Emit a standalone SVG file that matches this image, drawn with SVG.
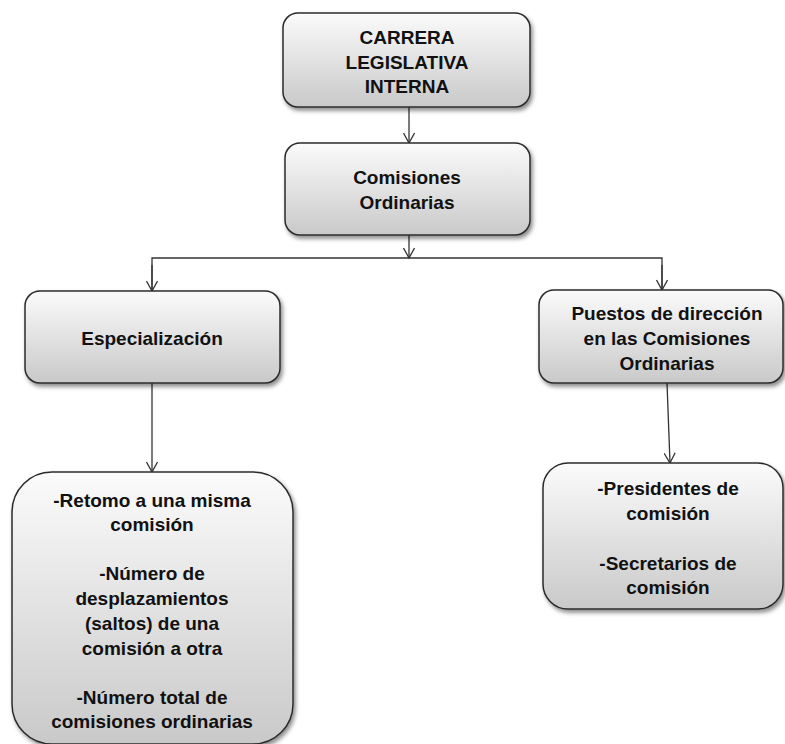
<svg xmlns="http://www.w3.org/2000/svg" width="785" height="744" viewBox="0 0 785 744">
<style>
.box{fill:url(#g);stroke:#2b2b2b;stroke-width:1.5;filter:url(#sh)}
.t{font-family:"Liberation Sans",Arial,sans-serif;font-weight:bold;font-size:19px;fill:#111;text-anchor:middle}
.c{fill:none;stroke:#333;stroke-width:1.3}
</style>
<defs>
<linearGradient id="g" x1="0" y1="0" x2="0" y2="1">
<stop offset="0" stop-color="#fbfbfb"/>
<stop offset="1" stop-color="#c9c9c9"/>
</linearGradient>
<filter id="sh" x="-10%" y="-10%" width="125%" height="130%">
<feDropShadow dx="2" dy="3" stdDeviation="2" flood-color="#000" flood-opacity="0.45"/>
</filter>
<marker id="a" viewBox="0 0 12 12" refX="11" refY="6" markerWidth="12" markerHeight="12" markerUnits="userSpaceOnUse" orient="auto">
<path d="M1,0.5 L11,6 L1,11.5" fill="none" stroke="#333" stroke-width="1.3"/>
</marker>
</defs>
<rect width="785" height="744" fill="#fff"/>
<g id="connectors">
<path class="c" d="M409,107 V143" marker-end="url(#a)"/>
<path class="c" d="M409,235 V258" marker-end="url(#a)"/>
<path class="c" d="M152,290 V258 H662 V290"/>
<path class="c" d="M152,265 V291" marker-end="url(#a)"/>
<path class="c" d="M662,265 V290" marker-end="url(#a)"/>
<path class="c" d="M152,383 V472" marker-end="url(#a)"/>
<path class="c" d="M667,383 L670,463" marker-end="url(#a)"/>
</g>
<g id="carrera">
<rect class="box" x="283" y="13" width="247" height="94" rx="15"/>
<text class="t" x="407" y="44">CARRERA</text>
<text class="t" x="407" y="69">LEGISLATIVA</text>
<text class="t" x="407" y="93">INTERNA</text>
</g>
<g id="comisiones">
<rect class="box" x="285" y="143" width="245" height="92" rx="15"/>
<text class="t" x="407" y="184">Comisiones</text>
<text class="t" x="407" y="209">Ordinarias</text>
</g>
<g id="especializacion">
<rect class="box" x="25" y="291" width="255" height="92" rx="15"/>
<text class="t" x="152" y="345">Especialización</text>
</g>
<g id="puestos">
<rect class="box" x="539" y="290" width="244" height="93" rx="15"/>
<text class="t" x="667" y="320">Puestos de dirección</text>
<text class="t" x="667" y="345">en las Comisiones</text>
<text class="t" x="667" y="370">Ordinarias</text>
</g>
<g id="indicadores">
<rect class="box" x="12" y="472" width="281" height="272" rx="40"/>
<text class="t" x="152" y="507">-Retomo a una misma</text>
<text class="t" x="152" y="531">comisión</text>
<text class="t" x="152" y="580">-Número de</text>
<text class="t" x="152" y="605">desplazamientos</text>
<text class="t" x="152" y="630">(saltos) de una</text>
<text class="t" x="152" y="655">comisión a otra</text>
<text class="t" x="152" y="704">-Número total de</text>
<text class="t" x="152" y="728">comisiones ordinarias</text>
</g>
<g id="cargos">
<rect class="box" x="543" y="463" width="240" height="146" rx="25"/>
<text class="t" x="668" y="495">-Presidentes de</text>
<text class="t" x="668" y="520">comisión</text>
<text class="t" x="668" y="570">-Secretarios de</text>
<text class="t" x="668" y="594">comisión</text>
</g>
</svg>
